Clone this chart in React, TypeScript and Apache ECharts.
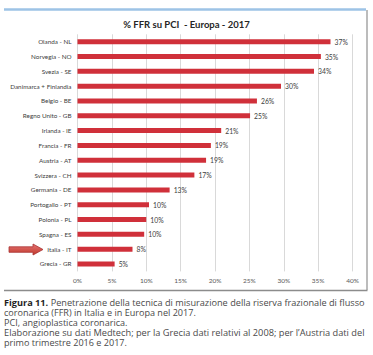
import React, { useEffect, useRef } from 'react';
import * as echarts from 'echarts';

const chartTitle = '% FFR su PCI  - Europa - 2017';
const categories = [
  'Olanda - NL',
  'Norvegia - NO',
  'Svezia - SE',
  'Danimarca + Finlandia',
  'Belgio - BE',
  'Regno Unito - GB',
  'Irlanda - IE',
  'Francia - FR',
  'Austria - AT',
  'Svizzera - CH',
  'Germania - DE',
  'Portogallo - PT',
  'Polonia - PL',
  'Spagna - ES',
  'Italia - IT',
  'Grecia - GR',
];
const values = [36.8, 35.4, 34.4, 29.6, 26.1, 25.1, 20.9, 19.4, 18.7, 17.0, 13.4, 10.4, 10.0, 9.7, 8.0, 5.4];
const axisMin = 0;
const axisMax = 40;
const axisStep = 5;

const captionBold = 'Figura 11.';
const captionLines = [
  'Penetrazione della tecnica di misurazione della riserva frazionale di flusso',
  'coronarica (FFR) in Italia e in Europa nel 2017.',
  'PCI, angioplastica coronarica.',
  'Elaborazione su dati Medtech; per la Grecia dati relativi al 2008; per l\u2019Austria dati del',
  'primo trimestre 2016 e 2017.',
];
const captionJustify = [true, false, false, true, false];

const CHART_FONT = 'Lato, "Open Sans", sans-serif';
const CAPTION_FONT = '"Open Sans", sans-serif';

function buildCaption(): any[] {
  const canvas = document.createElement('canvas');
  const ctx = canvas.getContext('2d') as CanvasRenderingContext2D;
  const F = 9;
  const measure = (t: string, bold: boolean) => {
    ctx.font = `${bold ? 'bold ' : ''}${F}px ${CAPTION_FONT}`;
    return ctx.measureText(t).width;
  };
  const x0 = 4;
  const x1 = 365;
  const base = 192 / measure(captionLines[1], false);
  const ys = [303, 312.8, 322.6, 332.4, 342.2];
  return captionLines.map((line, i) => {
    let natural = measure(line, false);
    let text = line;
    if (i === 0) {
      natural += measure(captionBold + ' ', true);
      text = `{b|${captionBold}} ${line}`;
    }
    const s = captionJustify[i] ? (x1 - x0) / natural : base;
    return {
      type: 'text',
      x: x0,
      y: ys[i],
      scaleX: s,
      scaleY: 1,
      silent: true,
      style: {
        text,
        fontSize: F,
        fontFamily: CAPTION_FONT,
        fill: '#4a4a4a',
        align: 'left',
        verticalAlign: 'middle',
        rich: {
          b: { fontSize: F, fontFamily: CAPTION_FONT, fontWeight: 'bold', fill: '#1f1f1f' },
        },
      },
    };
  });
}

export default function App() {
  const ref = useRef<HTMLDivElement>(null);
  useEffect(() => {
    if (!ref.current) return;
    const chart = echarts.init(ref.current, undefined, { renderer: 'svg' });
    const option: any = {
      animation: false,
      backgroundColor: '#ffffff',
      title: {
        text: chartTitle,
        left: 'center',
        top: 14,
        textStyle: { fontSize: 9.5, fontWeight: 'bold', fontFamily: CHART_FONT, color: '#262626' },
      },
      grid: { left: 77.5, right: 20.5, top: 34.3, bottom: 83.6, containLabel: false },
      xAxis: {
        type: 'value',
        min: axisMin,
        max: axisMax,
        interval: axisStep,
        axisLine: { show: false },
        axisTick: { show: false },
        splitLine: { show: true, lineStyle: { color: '#d9d9d9', width: 1 } },
        axisLabel: {
          formatter: (v: number) => `${v}%`,
          color: '#595959',
          fontSize: 6.5,
          fontFamily: CHART_FONT,
          margin: 6,
        },
      },
      yAxis: {
        type: 'category',
        data: categories,
        inverse: true,
        axisLine: { show: false },
        axisTick: { show: false },
        splitLine: { show: false },
        axisLabel: { color: '#404040', fontSize: 6.3, fontFamily: CHART_FONT, margin: 6 },
      },
      series: [
        {
          type: 'bar',
          data: values,
          barWidth: 5,
          itemStyle: { color: '#d0303a' },
          label: {
            show: true,
            position: 'right',
            distance: 4,
            formatter: (p: any) => `${Math.round(p.value)}%`,
            color: '#404040',
            fontSize: 6.8,
            fontFamily: CHART_FONT,
          },
        },
      ],
      graphic: [
        { type: 'line', silent: true, shape: { x1: 4, y1: 9.5, x2: 366, y2: 9.5 }, style: { stroke: '#9dc3e6', lineWidth: 2.5 } },
        { type: 'line', silent: true, shape: { x1: 367, y1: 10, x2: 367, y2: 290 }, style: { stroke: '#a6a6a6', lineWidth: 1.5 } },
        { type: 'line', silent: true, shape: { x1: 4, y1: 290.5, x2: 367.5, y2: 290.5 }, style: { stroke: '#8c8c8c', lineWidth: 1.5 } },
        {
          type: 'polygon',
          silent: true,
          shape: {
            points: [
              [9, 246.8], [33, 246.8], [33, 244], [43, 249.5], [33, 255], [33, 252.3], [9, 252.3],
            ],
          },
          style: {
            fill: new echarts.graphic.LinearGradient(0, 0, 0, 1, [
              { offset: 0, color: '#e57373' },
              { offset: 1, color: '#c0392b' },
            ]),
            stroke: '#a83232',
            lineWidth: 0.8,
          },
        },
        ...buildCaption(),
      ],
    };
    chart.setOption(option);
    return () => chart.dispose();
  }, []);
  return (
    <div
      ref={ref}
      style={{ position: 'absolute', left: 0, top: 0, width: 373, height: 355, background: '#fff' }}
    />
  );
}
